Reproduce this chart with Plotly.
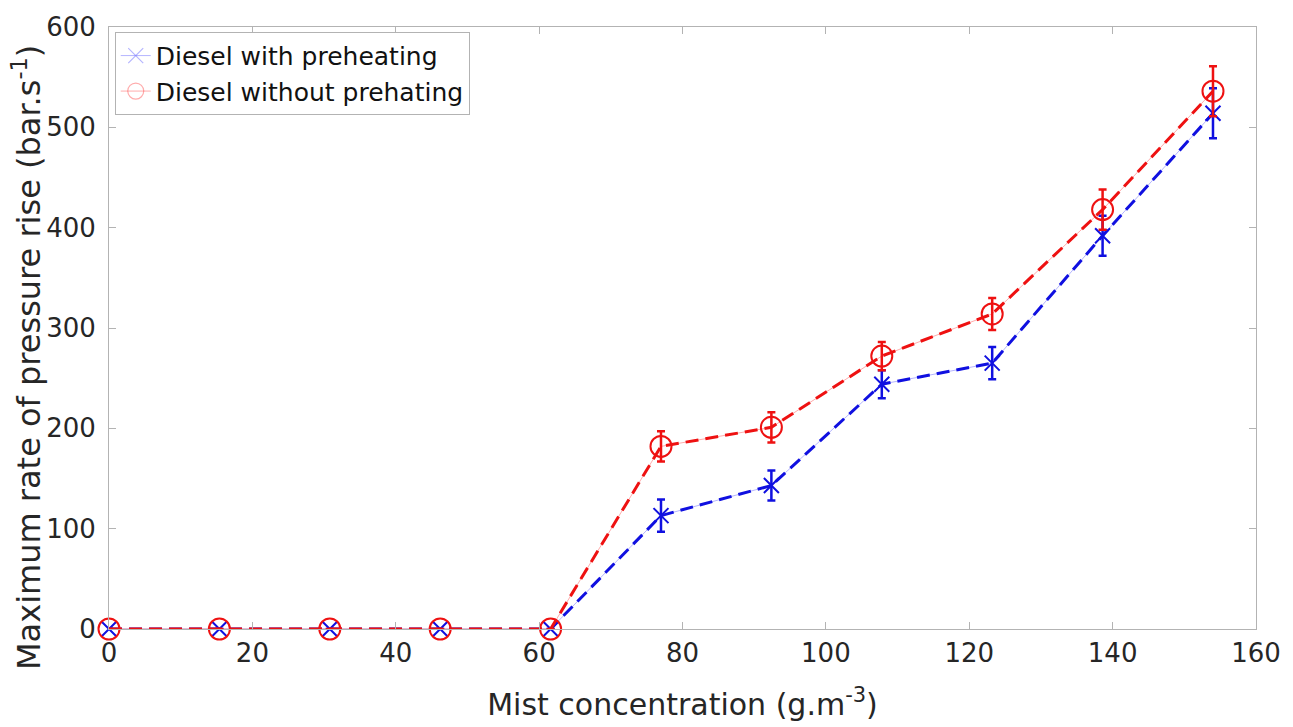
import plotly.graph_objects as go

# Mist concentration (g.m^-3)
concentration = [0, 15.4, 30.8, 46.2, 61.6, 77.0, 92.4, 107.8, 123.2, 138.6, 154.0]

# Maximum rate of pressure rise (bar.s^-1)
with_preheating = [0, 0, 0, 0, 0, 113, 143, 244, 265, 392, 514]
with_preheating_err = [0, 0, 0, 0, 0, 16, 15, 14, 16, 20, 25]

without_preheating = [0, 0, 0, 0, 0, 182, 201, 272, 314, 418, 536]
without_preheating_err = [0, 0, 0, 0, 0, 15, 15, 14, 16, 20, 25]

x_ticks = [0, 20, 40, 60, 80, 100, 120, 140, 160]
y_ticks = [0, 100, 200, 300, 400, 500, 600]

BLUE = "#1010e0"
RED = "#ee1111"
LIGHT_BLUE = "rgba(90,90,255,0.45)"
LIGHT_RED = "rgba(255,70,70,0.45)"
DASH = "13px,7px"
FONT = "DejaVu Sans, Liberation Sans, Arial, sans-serif"

fig = go.Figure()


def add_series(name, y, err, color, light, symbol, size):
    # thin solid connector underneath
    fig.add_trace(go.Scatter(
        x=concentration, y=y, mode="lines",
        line=dict(color=light, width=1), showlegend=False, hoverinfo="skip",
        cliponaxis=False))
    # bold dashed line with markers and error bars
    fig.add_trace(go.Scatter(
        x=concentration, y=y, mode="lines+markers",
        line=dict(color=color, width=3, dash=DASH),
        marker=dict(symbol=symbol, size=size, color=color,
                    line=dict(color=color, width=2)),
        error_y=dict(type="data", array=err, visible=True,
                     color=color, thickness=2.5, width=4),
        showlegend=False, name=name, cliponaxis=False))
    # legend entry
    fig.add_trace(go.Scatter(
        x=[None], y=[None], mode="lines+markers", name=name,
        line=dict(color=light, width=1),
        marker=dict(symbol=symbol, size=size, color=light,
                    line=dict(color=light, width=1.2))))


add_series("Diesel with preheating", with_preheating, with_preheating_err,
           BLUE, LIGHT_BLUE, "x-thin-open", 15)
add_series("Diesel without prehating", without_preheating, without_preheating_err,
           RED, LIGHT_RED, "circle-open", 21)

axis_common = dict(
    showgrid=False, zeroline=False, showline=True, linecolor="#b3b3b3",
    linewidth=1, mirror="allticks", ticks="inside", ticklen=7,
    tickcolor="#b3b3b3", tickfont=dict(size=26, color="#262626"),
)

fig.update_layout(
    width=1293, height=727,
    margin=dict(l=109, r=33, t=25, b=98),
    paper_bgcolor="white", plot_bgcolor="white",
    font=dict(family=FONT, color="#262626"),
    xaxis=dict(range=[0, 160], tickvals=x_ticks, ticklabelstandoff=1,
               title=dict(text="Mist concentration (g.m<sup>-3</sup>)",
                          font=dict(size=30), standoff=26),
               **axis_common),
    yaxis=dict(range=[0, 600], tickvals=y_ticks, ticklabelstandoff=7,
               **axis_common),
    legend=dict(x=0.005, y=0.992, xanchor="left", yanchor="top",
                bgcolor="white", bordercolor="#b3b3b3", borderwidth=1,
                font=dict(size=25, color="#111111"), itemwidth=30,
                tracegroupgap=0),
    annotations=[dict(
        text="Maximum rate of pressure rise (bar.s<sup>-1</sup>)",
        textangle=-90, xref="paper", yref="paper",
        x=0, y=0.5, xanchor="center", yanchor="middle",
        xshift=-82, yshift=-30, showarrow=False,
        font=dict(size=32, color="#262626"))],
)

fig.write_html("out.html")
